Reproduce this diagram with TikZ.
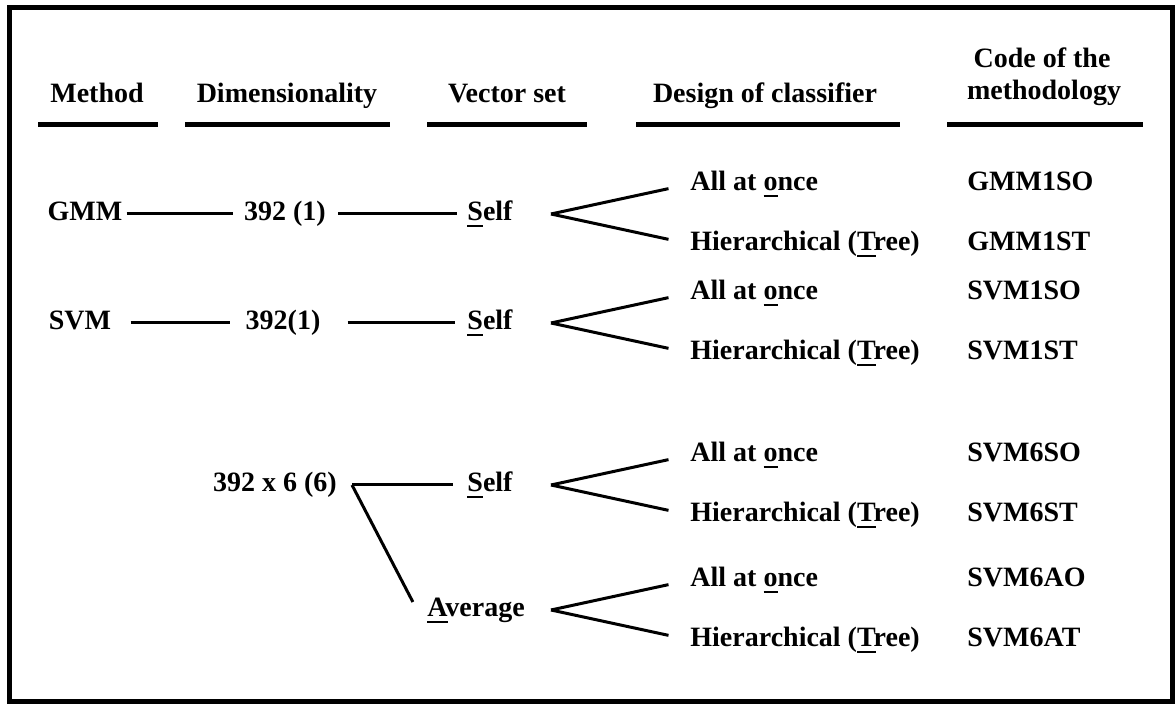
\documentclass[tikz,border=0pt]{standalone}
\usepackage{fontspec}
\setmainfont{Liberation Serif}
\usetikzlibrary{positioning}
\newcommand{\ulet}[1]{\setbox0\hbox{#1}\rlap{\rule[-3pt]{\wd0}{1pt}}#1}
\tikzset{lbl/.style={font=\fontsize{14pt}{16pt}\selectfont\bfseries,inner sep=0pt,
    text height=9.5pt,text depth=2.5pt},
  head rule/.style={line width=2.5pt},
  link/.style={line width=1.5pt},
}

\begin{document}
\begin{tikzpicture}[x=0.5pt,y=-0.5pt]
	\useasboundingbox (0,0) rectangle (1175,704);
	\draw[line width=2.5pt] (9,8) rectangle (1172,702);
	
	% column heads
	\node[lbl] (hmeth) at (97,96) {Method};
	\node[lbl] (hdim) at (287,96) {Dimensionality};
	\node[lbl] (hvec) at (507,96) {Vector set};
	\node[lbl] (hdes) at (765,96) {Design of classifier};
	\node[lbl] (hcode) at (1042,61) {Code of the};
	\node[lbl] (hcodeb) at (1044,93) {methodology};
	\foreach \a/\b in {38/158,185/390,427/587,636/900,947/1143}
		\draw[head rule] (\a,124.5) -- (\b,124.5);
	
	% methods and vector sets
	\node[lbl] (gmm) at (85,214) {GMM};
	\node[lbl] (dim1) at (285,214) {392 (1)};
	\node[lbl] (self1) at (490,214) {\ulet{S}elf};
	\node[lbl] (svm) at (80,323) {SVM};
	\node[lbl] (dim2) at (283,323) {392(1)};
	\node[lbl] (self2) at (490,323) {\ulet{S}elf};
	\node[lbl] (dim3) at (275,485) {392 x 6 (6)};
	\coordinate (c3) at (352,485);
	\node[lbl] (self3) at (490,485) {\ulet{S}elf};
	\node[lbl] (avg) at (476,610) {\ulet{A}verage};
	
	\path[draw,link]
	(gmm) edge[shorten <=2pt,shorten >=5.5pt] (dim1)
	(dim1) edge[shorten <=6pt,shorten >=5pt] (self1)
	(svm) edge[shorten <=9.5pt,shorten >=7.5pt] (dim2)
	(dim2) edge[shorten <=13.5pt,shorten >=6pt] (self2)
	(c3) edge[shorten >=7pt] (self3)
	(c3) edge ([xshift=-7pt,yshift=4pt]avg.west);
	
	% design of classifier and codes
	\foreach \n/\y/\ca/\cb in {1/214/GMM1SO/GMM1ST,2/323/SVM1SO/SVM1ST,
		3/485/SVM6SO/SVM6ST,4/610/SVM6AO/SVM6AT}{
		\coordinate (fork\n) at (551,\y);
		\node[lbl,anchor=west] (all\n) at (690,\y-30) {All at \ulet{o}nce};
		\node[lbl,anchor=west] (tree\n) at (690,\y+30) {Hierarchical (\ulet{T}ree)};
		\node[lbl,anchor=west] (codeo\n) at (967,\y-30) {\ca};
		\node[lbl,anchor=west] (codet\n) at (967,\y+30) {\cb};
		\draw[link,shorten >=11pt] (fork\n) -- (all\n.west);
		\draw[link,shorten >=11pt] (fork\n) -- (tree\n.west);
	}
\end{tikzpicture}
\end{document}
